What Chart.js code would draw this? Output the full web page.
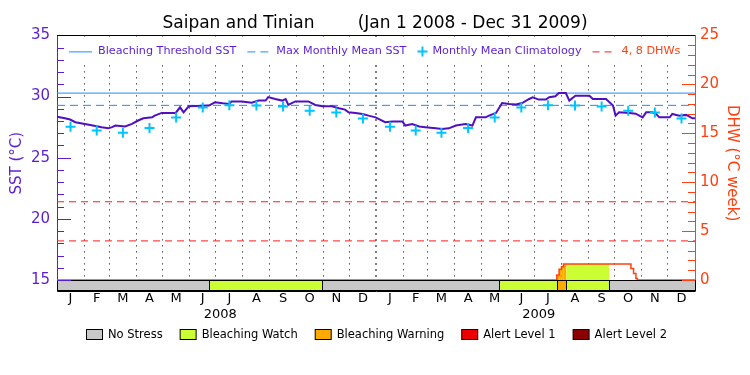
<!DOCTYPE html>
<html>
<head>
<meta charset="utf-8">
<script src="https://cdn.jsdelivr.net/npm/chart.js@4/dist/chart.umd.min.js"></script>
<style>
  html, body { margin: 0; padding: 0; background: #fff; }
</style>
</head>
<body>
<canvas id="chart" width="750" height="375"></canvas>
<script>
// x values are days since Jan 1 2008 (731 days up to Dec 31 2009)
const monthStarts = [0, 31, 60, 91, 121, 152, 182, 213, 244, 274, 305, 335,
                     366, 397, 425, 456, 486, 517, 547, 578, 609, 639, 670, 700, 731];
const monthLabels = ['J', 'F', 'M', 'A', 'M', 'J', 'J', 'A', 'S', 'O', 'N', 'D',
                     'J', 'F', 'M', 'A', 'M', 'J', 'J', 'A', 'S', 'O', 'N', 'D'];
const yearLabels = ['2008', '2009'];
const yearMids = [187, 552];

const sstTicks = [15, 20, 25, 30, 35];
const dhwTicks = [0, 5, 10, 15, 20, 25];

// SST (degC)
const sstDays = [0, 9, 15, 21, 32, 47, 51, 59, 63, 67, 78, 86, 93, 99, 109, 112, 120, 136, 141, 145,
  151, 174, 181, 190, 197, 200, 212, 223, 231, 239, 242, 250, 258, 262, 265, 273, 288, 296, 304, 315,
  323, 330, 334, 342, 350, 357, 365, 376, 384, 396, 399, 407, 415, 422, 434, 441, 449, 457, 468, 476,
  480, 491, 495, 503, 510, 518, 526, 533, 541, 545, 552, 560, 564, 571, 575, 583, 587, 594, 610, 614,
  629, 637, 640, 644, 656, 663, 671, 675, 682, 686, 690, 702, 705, 713, 721, 728, 731];
const sstValues = [28.36, 28.22, 28.12, 27.9, 27.76, 27.55, 27.49, 27.4, 27.5, 27.63, 27.55, 27.76, 28.04, 28.22, 28.3, 28.44, 28.66, 28.66, 29.12, 28.71,
  29.2, 29.26, 29.53, 29.45, 29.4, 29.6, 29.6, 29.5, 29.67, 29.67, 29.96, 29.8, 29.67, 29.8, 29.31, 29.6, 29.6, 29.31, 29.2, 29.2,
  29.04, 28.93, 28.71, 28.66, 28.58, 28.44, 28.3, 27.9, 27.95, 27.95, 27.63, 27.76, 27.55, 27.49, 27.4, 27.35, 27.4, 27.63, 27.76, 27.63,
  28.3, 28.3, 28.44, 28.66, 29.47, 29.4, 29.35, 29.47, 29.8, 29.94, 29.75, 29.75, 29.94, 30.02, 30.29, 30.29, 29.67, 30.07, 30.07, 29.8,
  29.8, 29.26, 28.44, 28.71, 28.66, 28.6, 28.3, 28.71, 28.71, 28.6, 28.3, 28.3, 28.58, 28.44, 28.5, 28.22, 28.22];

const climValues = [27.53, 27.23, 27.03, 27.43, 28.28, 29.1, 29.28, 29.27, 29.18, 28.84, 28.7, 28.21];
const mmm = 29.28;
const threshold = 30.28;
const dhwLevels = [4, 8];

// degree heating weeks
const dhwDays = [0, 572.7, 575.3, 578, 580.3, 657.6, 660.6, 663.3, 665, 731];
const dhwValues = [0, 0.51, 1.09, 1.36, 1.63, 1.19, 0.68, 0.17, 0, 0];

// stress level bar: 0 no stress, 1 watch, 2 warning, 3 alert 1, 4 alert 2
const statusStart = [0, 173.6, 303.7, 506.4, 572.6, 583.7, 632.6];
const statusEnd = [173.6, 303.7, 506.4, 572.6, 583.7, 632.6, 731];
const statusLevel = [0, 1, 0, 1, 2, 1, 0];
const statusNames = ['No Stress', 'Bleaching Watch', 'Bleaching Warning', 'Alert Level 1', 'Alert Level 2'];
const statusColors = ['#c8c8c8', '#ccff33', '#ffaa00', '#ee0000', '#8b0000'];

const FONT = "'DejaVu Sans', sans-serif";
const purple = '#5a1ed2';
const orange = '#ff4010';
const blue = '#1e8cff';
const cyan = '#00c4ff';

const monthMids = monthLabels.map((m, i) => (monthStarts[i] + monthStarts[i + 1]) / 2);
const climData = climValues.concat(climValues).map((v, i) => ({ x: monthMids[i], y: v }));
const lastDay = monthStarts[monthStarts.length - 1];

const decorations = {
  id: 'decorations',
  beforeDatasetsDraw(chart) {
    const { ctx, chartArea: a, scales: { x, y2 } } = chart;
    // area under DHW coloured by stress level
    ctx.save();
    ctx.beginPath();
    ctx.rect(a.left, a.top, a.width, a.height);
    ctx.clip();
    for (let i = 0; i < dhwDays.length - 1; i++) {
      if (dhwValues[i] <= 0) continue;
      for (let j = 0; j < statusStart.length; j++) {
        if (statusLevel[j] === 0) continue;
        const s = Math.max(dhwDays[i], statusStart[j]);
        const e = Math.min(dhwDays[i + 1], statusEnd[j]);
        if (e <= s) continue;
        const x0 = x.getPixelForValue(s), x1 = x.getPixelForValue(e);
        const yt = y2.getPixelForValue(dhwValues[i]), yb = y2.getPixelForValue(0);
        ctx.fillStyle = statusColors[statusLevel[j]];
        ctx.fillRect(x0, yt, x1 - x0, yb - yt);
      }
    }
    ctx.restore();
  },
  afterDatasetsDraw(chart) {
    const { ctx, chartArea: a, scales: { x, y, y2 } } = chart;
    ctx.save();
    // stress bar along the bottom
    const barTop = Math.round(y2.getPixelForValue(0)) + 0.5;
    const barBottom = Math.round(a.bottom) - 0.5;
    ctx.lineWidth = 1;
    ctx.strokeStyle = '#000';
    for (let j = 0; j < statusStart.length; j++) {
      const x0 = Math.round(x.getPixelForValue(statusStart[j])) + 0.5;
      const x1 = Math.round(x.getPixelForValue(statusEnd[j])) + 0.5;
      ctx.fillStyle = statusColors[statusLevel[j]];
      ctx.fillRect(x0, barTop, x1 - x0, barBottom - barTop);
      ctx.strokeRect(x0, barTop, x1 - x0, barBottom - barTop);
    }

    // legend inside the plot
    ctx.fillStyle = '#fff';
    ctx.fillRect(a.left + 8, a.top + 2, a.width - 17, 25);
    ctx.font = '11.2px ' + FONT;
    ctx.textBaseline = 'middle';
    const ly = a.top + 16;
    let lx = a.left + 12;
    chart.data.datasets.forEach(ds => {
      if (!ds.inLegend) return;
      ctx.strokeStyle = ds.borderColor;
      ctx.lineWidth = ds.showLine === false ? 2 : 1;
      ctx.setLineDash(ds.borderDash || []);
      ctx.beginPath();
      if (ds.showLine === false) {
        ctx.moveTo(lx, ly); ctx.lineTo(lx + 10, ly);
        ctx.moveTo(lx + 5, ly - 5); ctx.lineTo(lx + 5, ly + 5);
        lx += 15;
      } else {
        ctx.moveTo(lx, ly + 0.5); ctx.lineTo(lx + 23, ly + 0.5);
        lx += 29;
      }
      ctx.stroke();
      ctx.setLineDash([]);
      ctx.fillStyle = ds.legendColor;
      ctx.fillText(ds.label, lx, ly);
      lx += ctx.measureText(ds.label).width + 11;
    });

    // inward tick marks on both value axes
    ctx.lineWidth = 1;
    ctx.strokeStyle = purple;
    ctx.beginPath();
    for (let v = sstTicks[0]; v <= sstTicks[sstTicks.length - 1]; v++) {
      const py = Math.round(y.getPixelForValue(v)) + 0.5;
      ctx.moveTo(a.left, py);
      ctx.lineTo(a.left + (sstTicks.includes(v) ? 14 : 7), py);
    }
    ctx.stroke();
    ctx.strokeStyle = orange;
    ctx.beginPath();
    for (let v = dhwTicks[0]; v <= dhwTicks[dhwTicks.length - 1]; v++) {
      const py = Math.round(y2.getPixelForValue(v)) + 0.5;
      ctx.moveTo(a.right, py);
      ctx.lineTo(a.right - (dhwTicks.includes(v) ? 13 : 7), py);
    }
    ctx.stroke();

    // top frame line
    ctx.strokeStyle = '#000';
    ctx.beginPath();
    ctx.moveTo(a.left, Math.round(a.top) + 0.5);
    ctx.lineTo(a.right, Math.round(a.top) + 0.5);
    ctx.stroke();
    ctx.restore();
  },
  afterDraw(chart) {
    // stress level legend under the chart
    const { ctx } = chart;
    ctx.save();
    ctx.font = '11.5px ' + FONT;
    ctx.textBaseline = 'middle';
    const widths = statusNames.map(n => 16 + 6 + ctx.measureText(n).width);
    const total = widths.reduce((s, w) => s + w, 0) + 17 * (widths.length - 1);
    let lx = Math.round(376 - total / 2);
    const ly = 335;
    statusNames.forEach((n, i) => {
      ctx.fillStyle = statusColors[i];
      ctx.fillRect(lx + 0.5, ly - 5.5, 16, 10);
      ctx.strokeStyle = '#000';
      ctx.lineWidth = 1;
      ctx.strokeRect(lx + 0.5, ly - 5.5, 16, 10);
      ctx.fillStyle = '#000';
      ctx.fillText(n, lx + 22, ly);
      lx += widths[i] + 17;
    });
    ctx.restore();
  }
};

new Chart(document.getElementById('chart'), {
  type: 'line',
  data: {
    datasets: [
      {
        label: 'SST',
        data: sstDays.map((d, i) => ({ x: d, y: sstValues[i] })),
        yAxisID: 'y',
        borderColor: '#5010c0',
        borderWidth: 2,
        pointRadius: 0,
        order: 1
      },
      {
        label: 'Bleaching Threshold SST',
        inLegend: true,
        legendColor: purple,
        data: [{ x: 0, y: threshold }, { x: lastDay, y: threshold }],
        yAxisID: 'y',
        borderColor: blue,
        borderWidth: 1,
        pointRadius: 0,
        order: 3
      },
      {
        label: 'Max Monthly Mean SST',
        inLegend: true,
        legendColor: purple,
        data: [{ x: 0, y: mmm }, { x: lastDay, y: mmm }],
        yAxisID: 'y',
        borderColor: blue,
        borderWidth: 1,
        borderDash: [8, 5],
        pointRadius: 0,
        order: 3
      },
      {
        label: 'Monthly Mean Climatology',
        inLegend: true,
        legendColor: purple,
        data: climData,
        yAxisID: 'y',
        showLine: false,
        pointStyle: 'cross',
        pointRadius: 5,
        borderWidth: 2,
        borderColor: cyan,
        order: 0
      },
      {
        label: '4, 8 DHWs',
        inLegend: true,
        legendColor: orange,
        data: [{ x: 0, y: dhwLevels[0] }, { x: lastDay, y: dhwLevels[0] }],
        yAxisID: 'y2',
        borderColor: '#ff1a1a',
        borderWidth: 1,
        borderDash: [7, 5],
        pointRadius: 0,
        order: 3
      },
      {
        label: '8 DHW',
        data: [{ x: 0, y: dhwLevels[1] }, { x: lastDay, y: dhwLevels[1] }],
        yAxisID: 'y2',
        borderColor: '#ff1a1a',
        borderWidth: 1,
        borderDash: [7, 5],
        pointRadius: 0,
        order: 3
      },
      {
        label: 'DHW',
        data: dhwDays.map((d, i) => ({ x: d, y: dhwValues[i] })),
        yAxisID: 'y2',
        borderColor: orange,
        borderWidth: 1.5,
        stepped: true,
        pointRadius: 0,
        order: 2
      }
    ]
  },
  options: {
    responsive: false,
    animation: false,
    devicePixelRatio: 1,
    layout: { padding: { left: 0, right: 0, top: 0, bottom: 50 } },
    plugins: {
      legend: { display: false },
      tooltip: { enabled: false },
      title: {
        display: true,
        text: 'Saipan and Tinian        (Jan 1 2008 - Dec 31 2009)',
        color: '#000',
        font: { family: FONT, size: 17, weight: 'normal' },
        padding: { top: 13, bottom: 2 }
      }
    },
    scales: {
      x: {
        type: 'linear', position: 'bottom', min: 0, max: lastDay, weight: 0,
        afterBuildTicks: s => { s.ticks = monthStarts.slice(1, -1).map(v => ({ value: v })); },
        afterFit: s => { s.height = 0; },
        ticks: { display: false },
        grid: {
          color: '#000',
          lineWidth: c => (c.tick && c.tick.value === 366 ? 2 : 1),
          drawTicks: false
        },
        border: { color: '#000', dash: [1, 5] }
      },
      x2: {
        type: 'linear', position: 'bottom', min: 0, max: lastDay, weight: 1,
        afterBuildTicks: s => { s.ticks = monthMids.map(v => ({ value: v })); },
        afterFit: s => { s.height = 16; },
        ticks: {
          callback: (v, i) => monthLabels[i],
          autoSkip: false, maxRotation: 0, padding: 0,
          color: '#000', font: { family: FONT, size: 13 }
        },
        grid: { display: false, drawTicks: false },
        border: { display: false }
      },
      x3: {
        type: 'linear', position: 'bottom', min: 0, max: lastDay, weight: 2,
        afterBuildTicks: s => { s.ticks = yearMids.map(v => ({ value: v })); },
        afterFit: s => { s.height = 18; },
        ticks: {
          callback: (v, i) => yearLabels[i],
          autoSkip: false, maxRotation: 0, padding: 0,
          color: '#000', font: { family: FONT, size: 13 }
        },
        grid: { display: false, drawTicks: false },
        border: { display: false }
      },
      y: {
        type: 'linear', position: 'left', min: 14.1, max: 35,
        afterBuildTicks: s => { s.ticks = sstTicks.map(v => ({ value: v })); },
        afterFit: s => { s.width = 57; },
        ticks: { color: purple, padding: 7, font: { family: FONT, size: 15 } },
        grid: { display: false, drawTicks: false },
        border: { color: purple, width: 1 },
        title: {
          display: true, text: 'SST (°C)', color: purple,
          font: { family: FONT, size: 15 }, padding: { top: 8, bottom: 0 }
        }
      },
      y2: {
        type: 'linear', position: 'right', min: -1.12, max: 25,
        afterBuildTicks: s => { s.ticks = dhwTicks.map(v => ({ value: v })); },
        afterFit: s => { s.width = 55; },
        ticks: { color: orange, padding: 5, font: { family: FONT, size: 15 } },
        grid: { display: false, drawTicks: false },
        border: { color: orange, width: 1 },
        title: {
          display: true, text: 'DHW (°C week)', color: orange,
          font: { family: FONT, size: 15 }, padding: { top: 9, bottom: 0 }
        }
      }
    }
  },
  plugins: [decorations]
});
</script>
</body>
</html>
